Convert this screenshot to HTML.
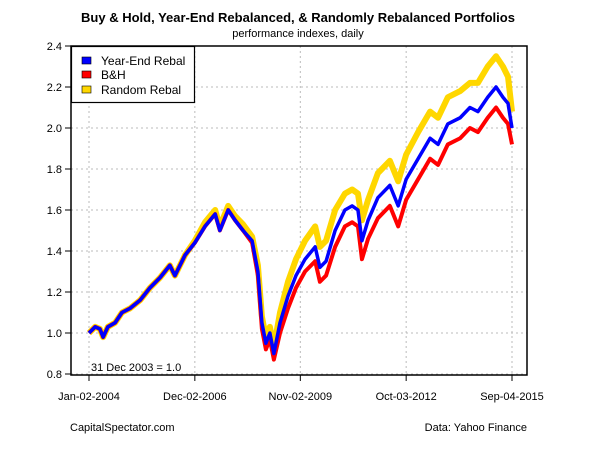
<!DOCTYPE html>
<html><head><meta charset="utf-8"><style>
body{margin:0;background:#fff;font-family:"Liberation Sans",Arial,sans-serif}
svg text{font-family:"Liberation Sans",Arial,sans-serif}
</style></head><body>
<svg id="chart" width="600" height="450">
<text x="298" y="22" text-anchor="middle" font-size="13" font-weight="bold">Buy &amp; Hold, Year-End Rebalanced, &amp; Randomly Rebalanced Portfolios</text>
<text x="298" y="37" text-anchor="middle" font-size="11">performance indexes, daily</text>
<g id="grid"></g><g id="series"></g><g id="axes"></g>
<rect x="71" y="46" width="456" height="329" fill="none" stroke="#000" stroke-width="1.5"/>
<g>
<rect x="71.5" y="46.5" width="123" height="56" fill="#fff" stroke="#000" stroke-width="1.2"/>
<rect x="82" y="57" width="9" height="7" fill="#0000ff" stroke="#000" stroke-width="0.6"/>
<text x="101" y="65" font-size="12">Year-End Rebal</text>
<rect x="82" y="71" width="9" height="7" fill="#ff0000" stroke="#000" stroke-width="0.6"/>
<text x="101" y="79" font-size="12">B&amp;H</text>
<rect x="82" y="86" width="9" height="7" fill="#ffd700" stroke="#000" stroke-width="0.6"/>
<text x="101" y="94" font-size="12">Random Rebal</text>
</g>
<text x="91" y="371" font-size="11">31 Dec 2003 = 1.0</text>
<text x="70" y="431" font-size="11">CapitalSpectator.com</text>
<text x="527" y="431" font-size="11" text-anchor="end">Data: Yahoo Finance</text>
</svg>
<script>
const dates=[2004.0,2004.17,2004.3,2004.39,2004.52,2004.72,2004.91,2005.13,2005.41,2005.68,2005.96,2006.23,2006.37,2006.65,2006.92,2007.2,2007.48,2007.61,2007.84,2008.03,2008.25,2008.5,2008.66,2008.77,2008.88,2008.99,2009.1,2009.27,2009.49,2009.71,2009.96,2010.24,2010.37,2010.54,2010.79,2011.06,2011.26,2011.42,2011.53,2011.7,2011.97,2012.3,2012.53,2012.75,2013.08,2013.41,2013.63,2013.9,2014.24,2014.51,2014.73,2015.0,2015.23,2015.42,2015.56,2015.67];
const yearEnd=[1.00,1.03,1.02,0.98,1.03,1.05,1.10,1.12,1.16,1.22,1.27,1.33,1.28,1.38,1.44,1.52,1.58,1.50,1.60,1.55,1.50,1.45,1.30,1.05,0.95,1.00,0.90,1.05,1.18,1.28,1.36,1.42,1.32,1.35,1.50,1.60,1.62,1.60,1.45,1.55,1.66,1.72,1.62,1.75,1.85,1.95,1.92,2.02,2.05,2.10,2.08,2.15,2.20,2.15,2.12,2.00];
const buyHold=[1.00,1.03,1.02,0.98,1.03,1.05,1.10,1.12,1.16,1.22,1.27,1.33,1.28,1.38,1.44,1.52,1.58,1.50,1.60,1.55,1.50,1.44,1.28,1.02,0.92,0.97,0.87,1.00,1.12,1.22,1.30,1.35,1.25,1.28,1.42,1.52,1.54,1.52,1.36,1.46,1.56,1.62,1.52,1.65,1.75,1.85,1.82,1.92,1.95,2.00,1.98,2.05,2.10,2.05,2.02,1.92];
const randomRebal=[1.00,1.03,1.02,0.98,1.03,1.05,1.10,1.12,1.16,1.22,1.27,1.33,1.28,1.38,1.45,1.54,1.60,1.52,1.62,1.57,1.53,1.47,1.33,1.08,0.98,1.03,0.93,1.10,1.25,1.36,1.45,1.52,1.42,1.45,1.60,1.68,1.70,1.68,1.55,1.65,1.78,1.84,1.74,1.87,1.98,2.08,2.05,2.15,2.18,2.22,2.22,2.30,2.35,2.30,2.25,2.08];
const yTicks=[0.8,1.0,1.2,1.4,1.6,1.8,2.0,2.2,2.4];
const xTickDates=[2004.0,2006.92,2009.83,2012.75,2015.67];
const xTickLabels=["Jan-02-2004","Dec-02-2006","Nov-02-2009","Oct-03-2012","Sep-04-2015"];

const NS="http://www.w3.org/2000/svg";
function xs(d){return 89+(d-2004.0)/11.67*423;}
function ys(v){return 128-(v-2.0)*205;}
function mk(tag,attrs,parent){const e=document.createElementNS(NS,tag);for(const k in attrs)e.setAttribute(k,attrs[k]);parent.appendChild(e);return e;}
const grid=document.getElementById('grid'),axes=document.getElementById('axes'),ser=document.getElementById('series');
yTicks.forEach(v=>{
  const g=mk('line',{x1:71,x2:527,y1:ys(v),y2:ys(v),stroke:'#bbb','stroke-dasharray':'2,3'},grid);
  
  
  const t=mk('line',{x1:65,x2:71,y1:ys(v),y2:ys(v),stroke:'#000'},axes);
  
  
  const l=mk('text',{x:62,y:ys(v)+4,'text-anchor':'end','font-size':11},axes);
  l.textContent=v.toFixed(1);
  
  
});
xTickDates.forEach((d,i)=>{
  const g=mk('line',{x1:xs(d),x2:xs(d),y1:46,y2:375,stroke:'#bbb','stroke-dasharray':'2,3'},grid);
  
  
  const t=mk('line',{x1:xs(d),x2:xs(d),y1:375,y2:381,stroke:'#000'},axes);
  
  
  const l=mk('text',{x:xs(d),y:400,'text-anchor':'middle','font-size':11},axes);
  l.textContent=xTickLabels[i];
  
  
});
function line(vals,color,w,name){
  const p=mk('polyline',{points:vals.map((v,i)=>xs(dates[i])+','+ys(v)).join(' '),fill:'none',stroke:color,'stroke-width':w,'stroke-linejoin':'round'},ser);
  
  
}
line(randomRebal,'#ffd700',6,'random-rebal-line');
line(buyHold,'#ff0000',4,'buy-hold-line');
line(yearEnd,'#0000ff',3.5,'year-end-rebal-line');
</script>
</body></html>
